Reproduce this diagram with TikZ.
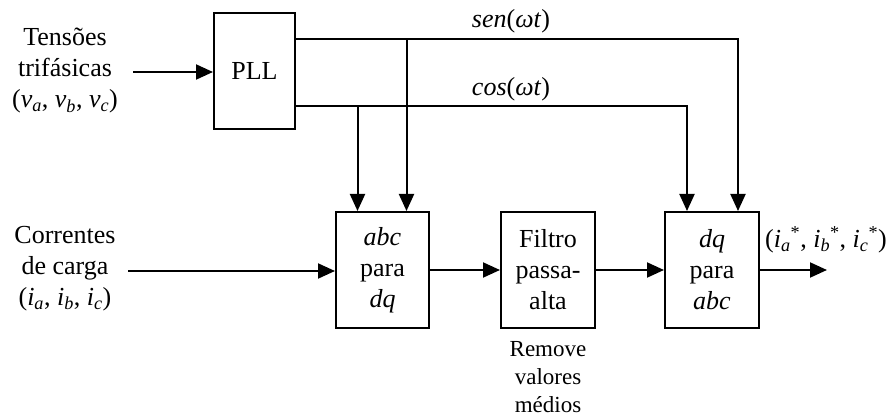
\documentclass[tikz,border=0pt]{standalone}
\usepackage{fontspec}
\setmainfont{Liberation Serif}
\usetikzlibrary{arrows.meta}
\begin{document}
\begin{tikzpicture}[x=1pt,y=-1pt,
  blk/.style={draw,line width=2pt,minimum width=93pt,minimum height=116pt,align=center,inner sep=0pt,font=\fontsize{26}{31}\selectfont},
  lbl/.style={align=center,inner sep=0pt,font=\fontsize{26}{31}\selectfont},
  note/.style={align=center,inner sep=0pt,font=\fontsize{23}{28}\selectfont},
  arr/.style={line width=2pt,-{Triangle[length=17pt,width=15pt]}}]
\useasboundingbox (0,0) rectangle (887,417);
\node[blk,minimum width=81pt] (pll) at (254.5,71) {PLL};
\node[blk] (abc) at (382.5,270) {\textit{abc}\\para\\\textit{dq}};
\node[blk,minimum width=94pt] (filt) at (548,270) {Filtro\\passa-\\alta};
\node[blk,minimum width=94pt] (dq) at (712,270) {\textit{dq}\\para\\\textit{abc}};
\node[lbl] (tens) at (65,71) {Tensões\\trifásicas\\(\textit{v}\textsubscript{\textit{a}}, \textit{v}\textsubscript{\textit{b}}, \textit{v}\textsubscript{\textit{c}})};
\node[lbl] (corr) at (65,269) {Correntes\\de carga\\(\textit{i}\textsubscript{\textit{a}}, \textit{i}\textsubscript{\textit{b}}, \textit{i}\textsubscript{\textit{c}})};
\node[note] (rem) at (548,377) {Remove\\valores\\médios};
\node[lbl] (sen) at (511,21) {\textit{sen}(\textit{ωt})};
\node[lbl] (cos) at (511,89) {\textit{cos}(\textit{ωt})};
\node[lbl,anchor=west] (out) at (765,240) {(\textit{i}\textsubscript{\textit{a}}\textsuperscript{*}, \textit{i}\textsubscript{\textit{b}}\textsuperscript{*}, \textit{i}\textsubscript{\textit{c}}\textsuperscript{*})};
\coordinate (senY) at (0,39);
\coordinate (cosY) at (0,106);
\coordinate (tin) at (133,72);
\coordinate (cin) at (128,271);
\coordinate (oend) at (827,270);
\draw[arr] (tin) -- (tin -| pll.west);
\draw[arr] (cin) -- (cin -| abc.west);
\draw[arr] (abc.east) -- (filt.west);
\draw[arr] (filt.east) -- (dq.west);
\draw[arr] (dq.east) -- (oend);
\draw[arr] (pll.east |- senY) -| ([xshift=26pt]dq.north);
\draw[arr] (pll.east |- cosY) -| ([xshift=-25pt]dq.north);
\draw[arr] ([xshift=24pt]abc.north |- senY) -- ([xshift=24pt]abc.north);
\draw[arr] ([xshift=-25pt]abc.north |- cosY) -- ([xshift=-25pt]abc.north);
\end{tikzpicture}
\end{document}
